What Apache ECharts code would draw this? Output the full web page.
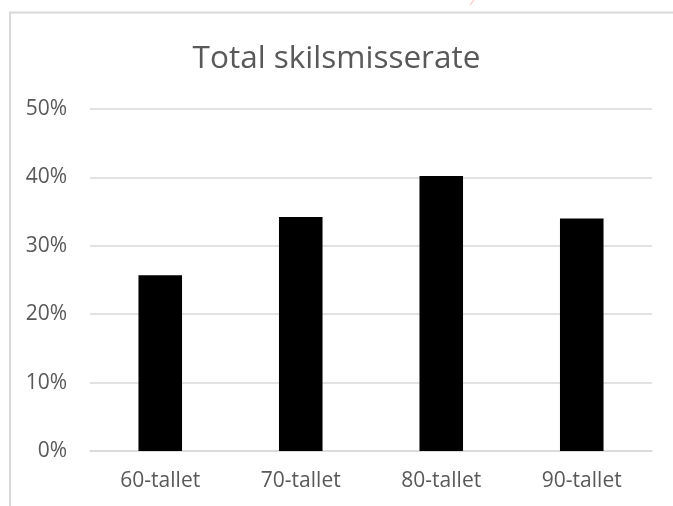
<!DOCTYPE html>
<html>
<head>
<meta charset="utf-8">
<script src="https://cdn.jsdelivr.net/npm/echarts@6/dist/echarts.min.js"></script>
<style>
html,body{margin:0;padding:0;background:#fff;}
#c{width:673px;height:506px;}
</style>
</head>
<body>
<div id="c"></div>
<script>
var categories = ['60-tallet', '70-tallet', '80-tallet', '90-tallet'];
var values = [25.7, 34.2, 40.2, 34.0];
var titleText = 'Total skilsmisserate';

var chart = echarts.init(document.getElementById('c'), null, {renderer: 'canvas'});
var font = "'Open Sans', 'Liberation Sans', sans-serif";
chart.setOption({
  animation: false,
  backgroundColor: '#ffffff',
  title: {
    text: titleText,
    left: 'center',
    top: 38,
    textStyle: {fontFamily: font, fontSize: 31.5, fontWeight: 'normal', color: '#595959'}
  },
  graphic: [{
    type: 'rect',
    left: 7.5, top: 10,
    shape: {width: 700, height: 520},
    style: {fill: 'none', stroke: '#d9d9d9', lineWidth: 2},
    silent: true
  }, {
    type: 'line',
    shape: {x1: 474, y1: 0, x2: 470, y2: 5},
    style: {stroke: '#f6d4d4', lineWidth: 1.5},
    silent: true
  }],
  grid: {left: 90, right: 21, top: 109, bottom: 55},
  xAxis: {
    type: 'category',
    data: categories,
    axisLine: {show: true, lineStyle: {color: '#d9d9d9', width: 1.5}},
    axisTick: {show: false},
    axisLabel: {fontFamily: font, fontSize: 21, color: '#595959', margin: 20}
  },
  yAxis: {
    type: 'value',
    min: 0, max: 50, interval: 10,
    axisLine: {show: false},
    axisTick: {show: false},
    splitLine: {lineStyle: {color: '#d9d9d9', width: 1.5}},
    axisLabel: {fontFamily: font, fontSize: 21, color: '#595959', margin: 23, formatter: '{value}%'}
  },
  series: [{
    type: 'bar',
    data: values,
    barWidth: '31%',
    itemStyle: {color: '#000000'}
  }]
});
</script>
</body>
</html>
